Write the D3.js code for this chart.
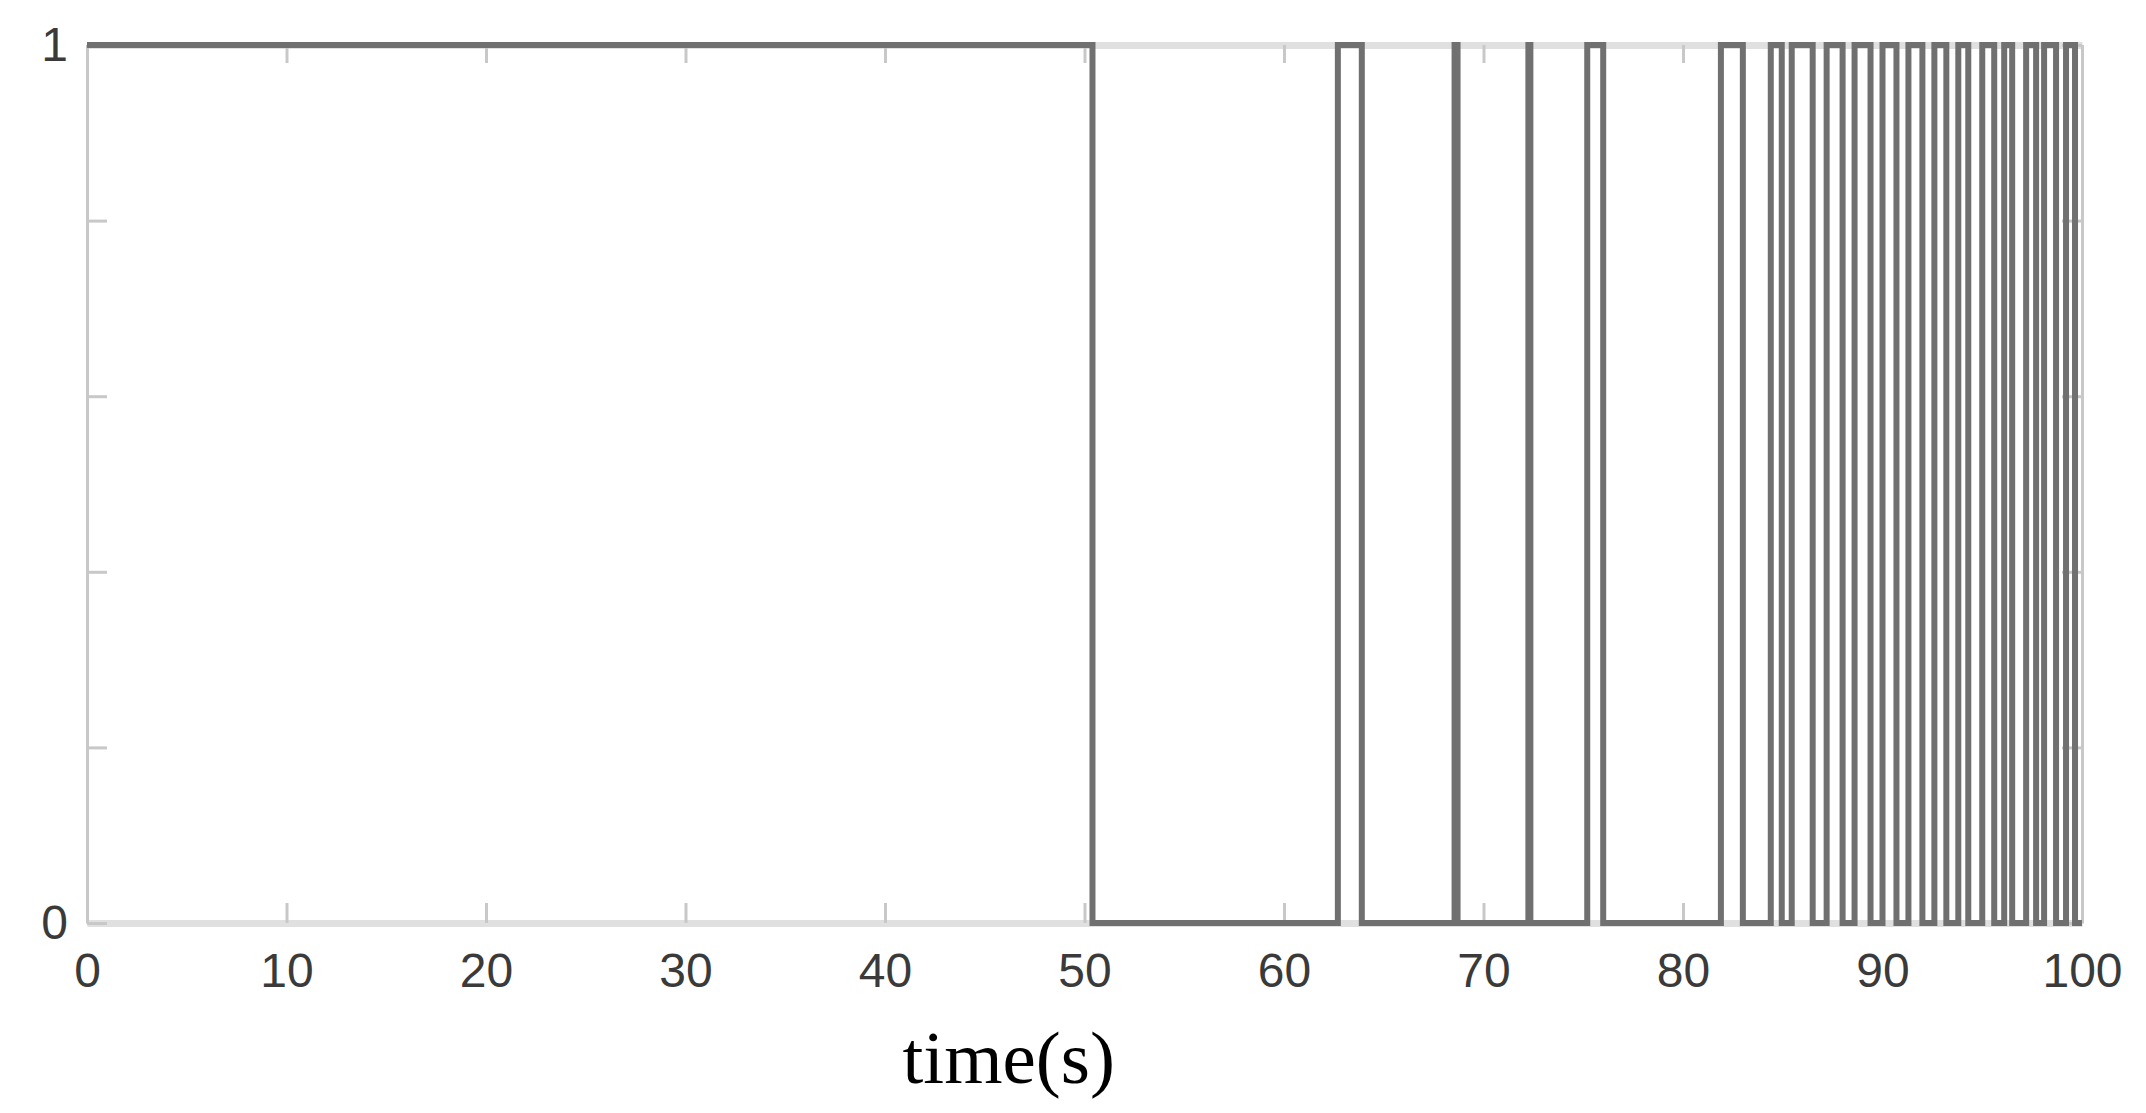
<!DOCTYPE html>
<html>
<head>
<meta charset="utf-8">
<script src="https://cdn.jsdelivr.net/npm/d3@7"></script>
<style>
  body { margin: 0; background: #fff; }
</style>
</head>
<body>
<div id="canva"></div>
<script>
// tick values
var xTicks = [0, 10, 20, 30, 40, 50, 60, 70, 80, 90, 100];
var yTicks = [0, 0.2, 0.4, 0.6, 0.8, 1];
var yLabelled = [0, 1];

// switching signal: starts at 1, flips at each of these times (s)
var startState = 1;
var switchTimes = [50.4, 62.7, 63.9, 68.55, 68.7, 72.25, 72.35, 75.2, 76.0,
	81.9, 83.0, 84.4, 84.95, 85.45, 86.5, 87.2, 88.0, 88.6, 89.4, 90.0,
	90.7, 91.3, 92.0, 92.6, 93.2, 93.8, 94.3, 95.0, 95.6, 96.1, 96.5,
	97.2, 97.7, 98.1, 98.7, 99.2, 99.65];
var endTime = 100;

var margin = {top: 45, left: 87, right: 64, bottom: 190},
	width = 2146 - margin.left - margin.right,
	height = 1113 - margin.top - margin.bottom;

var svg = d3.select("#canva")
	.append("svg")
	.attr("width", 2146)
	.attr("height", 1113)
	.append("g")
	.attr("transform", "translate(" + margin.left + "," + margin.top + ")");

var x = d3.scaleLinear().domain([0, 100]).range([0, width]);
var y = d3.scaleLinear().domain([0, 1]).range([height, 0]);

// build step points from the switch times
var pts = [[0, startState]];
var s = startState;
switchTimes.forEach(function(t){
	s = 1 - s;
	pts.push([t, s]);
});
pts.push([endTime, s]);

var font = "'Liberation Sans', Arial, Helvetica, sans-serif";

var gx = svg.append("g")
	.attr("transform", "translate(0," + height + ")")
	.call(d3.axisBottom(x).tickValues(xTicks).tickSize(-20).tickSizeOuter(0).tickPadding(30));

var gxt = svg.append("g")
	.call(d3.axisTop(x).tickValues(xTicks).tickSize(-18).tickSizeOuter(0).tickFormat(""));

var gy = svg.append("g")
	.call(d3.axisLeft(y).tickValues(yTicks).tickSize(-20).tickSizeOuter(0).tickPadding(19)
		.tickFormat(function(d){ return yLabelled.indexOf(d) >= 0 ? d : ""; }));

var gyr = svg.append("g")
	.attr("transform", "translate(" + width + ",0)")
	.call(d3.axisRight(y).tickValues(yTicks).tickSize(-20).tickSizeOuter(0).tickFormat(""));

[gx, gxt].forEach(function(g){
	g.select(".domain").attr("stroke", "#e0e0e0").attr("stroke-width", 7);
});
[gy, gyr].forEach(function(g){
	g.select(".domain").attr("stroke", "#c8c8c8").attr("stroke-width", 3);
});
[gx, gxt, gy, gyr].forEach(function(g){
	g.selectAll(".tick line").attr("stroke", "#c8c8c8").attr("stroke-width", 3);
	g.selectAll(".tick text")
		.attr("fill", "#3a3a3a")
		.style("font-family", font)
		.style("font-size", "48px");
});

var line = d3.line()
	.x(function(d){ return x(d[0]); })
	.y(function(d){ return y(d[1]); })
	.curve(d3.curveStepAfter);

svg.append("path")
	.datum(pts)
	.attr("fill", "none")
	.attr("stroke", "#707070")
	.attr("stroke-width", 6)
	.attr("d", line);

svg.append("text")
	.attr("x", x(46.2))
	.attr("y", height + 160)
	.attr("text-anchor", "middle")
	.attr("fill", "#000")
	.style("font-family", "'Liberation Serif', 'Times New Roman', serif")
	.style("font-size", "75px")
	.text("time(s)");
</script>
</body>
</html>
